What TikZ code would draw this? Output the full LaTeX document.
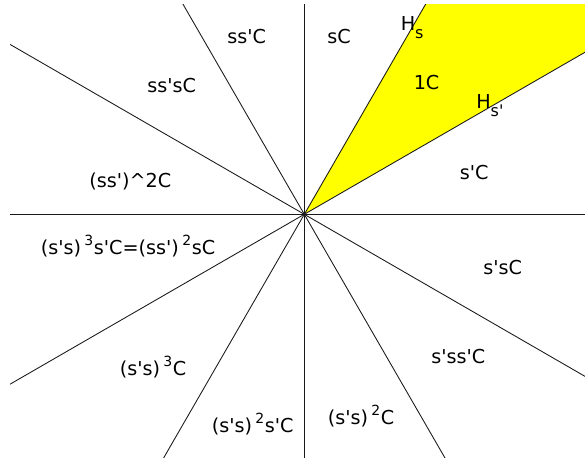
\documentclass[tikz,border=0pt]{standalone}
\usepackage{fontspec}
\setmainfont[Ligatures=TeXOff]{DejaVu Sans}
\definecolor{yel}{RGB}{255,255,0}
\newcommand{\myup}[1]{\hspace{2.5pt}\raisebox{6.2pt}{\fontsize{10.5}{12}\selectfont #1}\hspace{0.5pt}}
\newcommand{\mydown}[1]{\raisebox{-6pt}{\fontsize{12}{14}\selectfont #1}}
\begin{document}
\begin{tikzpicture}[x=0.75pt,y=-0.75pt,
  ray/.style={line width=0.65pt,black!90},
  lbl/.style={anchor=base west,inner sep=0pt,font=\fontsize{14.4}{17}\selectfont}]
\useasboundingbox (0,0) rectangle (585,457);
\coordinate (o) at (304.3,214.3);
\begin{scope}
\clip (10,4) rectangle (585,457);
\fill[yel] (o) -- ++(121.2,-210.3) -- (585,4) -- (585,52) -- cycle;
\foreach \a in {0,30,...,330}{
  \draw[ray] (o) -- ++({700*cos(\a)},{-700*sin(\a)});
}
\end{scope}
\node[lbl] (sc) at (327,43) {sC};
\node[lbl] (hs) at (400.5,30.7) {H\mydown{s}};
\node[lbl] (one) at (413.5,89) {1C};
\node[lbl] (hsp) at (476,108) {H\mydown{s'}};
\node[lbl] (spc) at (459.5,179) {s'C};
\node[lbl] (sspc) at (227,43) {ss'C};
\node[lbl] (sspsc) at (147,92) {ss'sC};
\node[lbl] (sspsq) at (89,187) {(ss')\^{}2C};
\node[lbl] (big) at (40.5,254) {(s's)\myup{3}s'C=(ss')\myup{2}sC};
\node[lbl] (spsc) at (483,274) {s'sC};
\node[lbl] (spssp) at (431,363) {s'ss'C};
\node[lbl] (c3) at (119.5,375) {(s's)\myup{3}C};
\node[lbl] (c2sp) at (211.5,432) {(s's)\myup{2}s'C};
\node[lbl] (c2) at (327.5,424) {(s's)\myup{2}C};
\end{tikzpicture}
\end{document}
